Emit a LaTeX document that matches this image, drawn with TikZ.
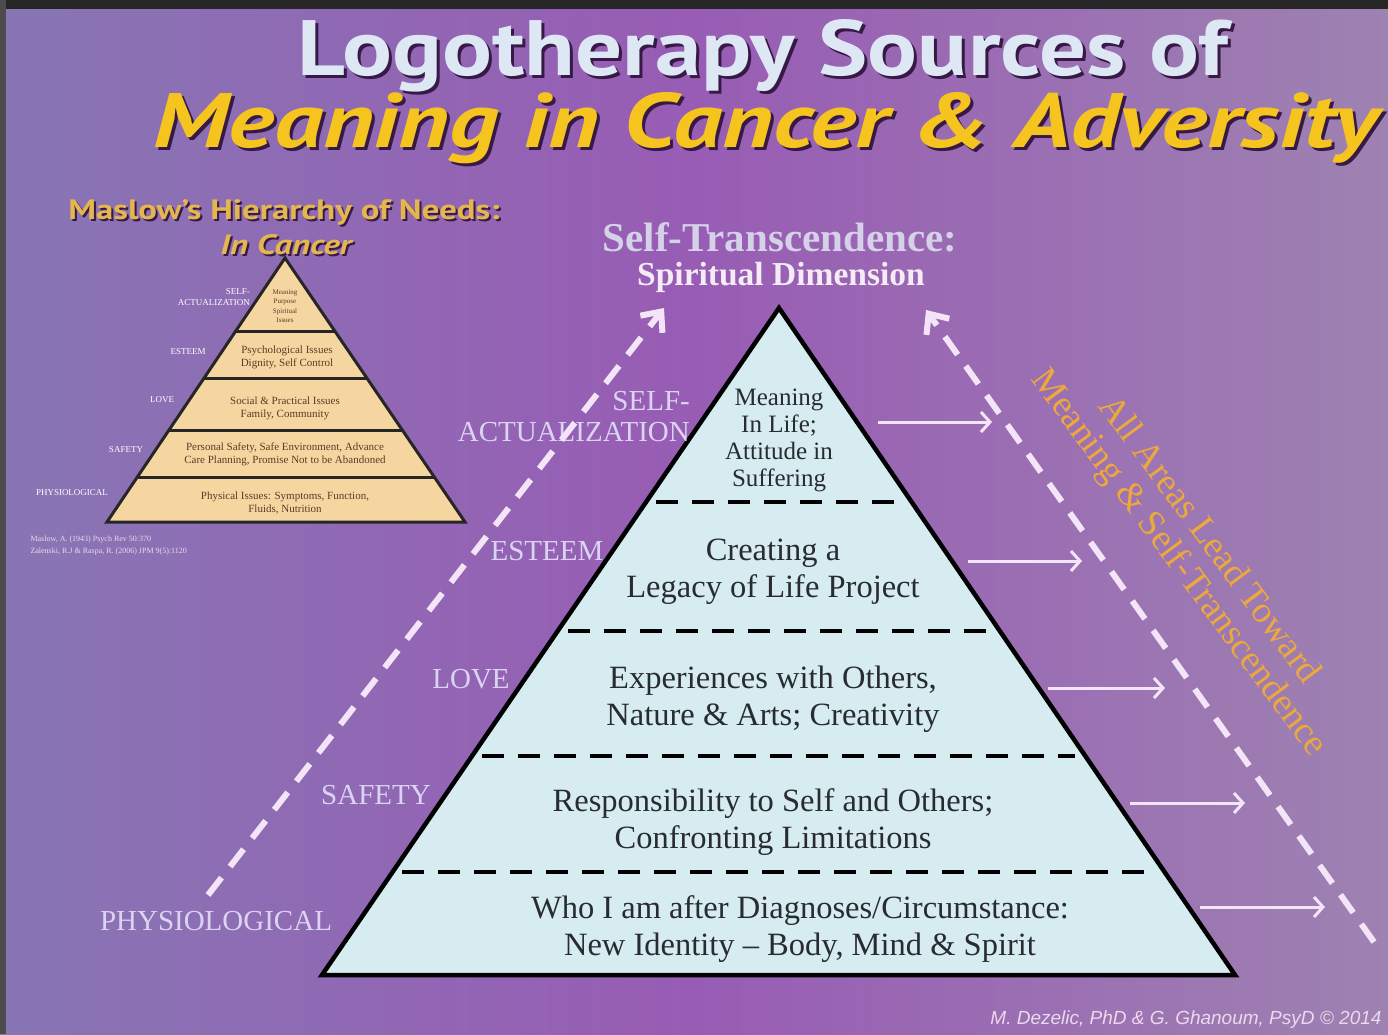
\documentclass[tikz,border=0pt]{standalone}
\usepackage{fontspec}
\usepackage{graphicx}
\setmainfont{Liberation Serif}
\newfontfamily\headfont{PT Sans}
\newfontfamily\notefont{Liberation Sans}
\usetikzlibrary{arrows.meta,calc}

\definecolor{bgleft}{RGB}{136,118,180}
\definecolor{bgmid}{RGB}{152,92,180}
\definecolor{bgright}{RGB}{158,130,178}
\definecolor{titleblue}{RGB}{222,232,244}
\definecolor{titlegold}{RGB}{246,196,30}
\definecolor{shadowcol}{RGB}{55,25,70}
\definecolor{maslowgold}{RGB}{228,182,78}
\definecolor{maslowfill}{RGB}{246,214,160}
\definecolor{maslowtext}{RGB}{85,62,40}
\definecolor{pyrfill}{RGB}{214,236,240}
\definecolor{tiercol}{RGB}{40,44,48}
\definecolor{labelcol}{RGB}{218,212,242}
\definecolor{flowcol}{RGB}{244,228,248}
\definecolor{leadgold}{RGB}{236,168,60}

\begin{document}
\begin{tikzpicture}[x=1pt,y=-1pt,
tiertext/.style={text=tiercol, font=\fontsize{32.5}{37}\selectfont, align=center, inner sep=0pt},
levellabel/.style={text=labelcol, font=\fontsize{29}{31}\selectfont, align=right, inner sep=0pt},
smalltext/.style={text=maslowtext, font=\fontsize{11}{13}\selectfont, align=center, inner sep=0pt},
smalllabel/.style={text=white, font=\fontsize{9}{11}\selectfont, align=right, inner sep=0pt},
maslowhead/.style={font=\headfont\bfseries\fontsize{28}{30}\selectfont, inner sep=0pt},
tierline/.style={black, line width=4pt, dash pattern=on 22pt off 14pt},
flow/.style={flowcol, line width=6pt, dash pattern=on 22pt off 14pt, -{Straight Barb[length=16pt,width=28pt]}},
lead/.style={flowcol, line width=3pt, -{Straight Barb[length=9pt,width=20pt]}}
]
\useasboundingbox (0,0) rectangle (1388,1034);
\shade[left color=bgleft, right color=bgright, middle color=bgmid] (0,0) rectangle (1388,1034);
\fill[black!85] (0,0) rectangle (1388,9);
\fill[black!70] (0,0) rectangle (6,1034);

% title
\node[text=shadowcol, anchor=base, inner sep=0pt] at (766,78) {\resizebox{930pt}{56pt}{\headfont\bfseries Logotherapy Sources of}};
\node[text=titleblue, anchor=base, inner sep=0pt] (title1) at (763,75) {\resizebox{930pt}{56pt}{\headfont\bfseries Logotherapy Sources of}};
\node[text=shadowcol, anchor=base, inner sep=0pt] at (769,150) {\resizebox{1223pt}{55pt}{\headfont\bfseries\itshape Meaning in Cancer \& Adversity}};
\node[text=titlegold, anchor=base, inner sep=0pt] (title2) at (766,147) {\resizebox{1223pt}{55pt}{\headfont\bfseries\itshape Meaning in Cancer \& Adversity}};

% Maslow pyramid
\node[maslowhead, text=shadowcol] at (286,214) {\scalebox{1.24}[1]{Maslow’s Hierarchy of Needs:}};
\node[maslowhead, text=maslowgold] (mtitle) at (284,212) {\scalebox{1.24}[1]{Maslow’s Hierarchy of Needs:}};
\node[maslowhead, text=shadowcol] at (288,247) {\scalebox{1.24}[1]{\itshape In Cancer}};
\node[maslowhead, text=maslowgold] (msub) at (286,245) {\scalebox{1.24}[1]{\itshape In Cancer}};

\coordinate (mapex) at (285,258);
\coordinate (mbl) at (107,522);
\coordinate (mbr) at (465,522);
\filldraw[fill=maslowfill, draw=black!85, line width=3pt] (mapex) -- (mbl) -- (mbr) -- cycle;
\foreach \t in {0.280,0.455,0.652,0.830}
  \draw[black!85, line width=3pt] ($(mapex)!\t!(mbl)$) -- ($(mapex)!\t!(mbr)$);

\node[smalltext, font=\fontsize{7}{9.5}\selectfont] (mt1) at (285,306) {Meaning\\Purpose\\Spiritual\\Issues};
\node[smalltext] (mt2) at (287,357) {Psychological Issues\\Dignity, Self Control};
\node[smalltext] (mt3) at (285,408) {Social \& Practical Issues\\Family, Community};
\node[smalltext] (mt4) at (285,454) {Personal Safety, Safe Environment, Advance\\Care Planning, Promise Not to be Abandoned};
\node[smalltext] (mt5) at (285,503) {Physical Issues: Symptoms, Function,\\Fluids, Nutrition};

\node[smalllabel, anchor=east] (ml1) at (250,297) {SELF-\\ACTUALIZATION};
\node[smalllabel] (ml2) at (188,352) {ESTEEM};
\node[smalllabel] (ml3) at (162,400) {LOVE};
\node[smalllabel] (ml4) at (126,450) {SAFETY};
\node[smalllabel] (ml5) at (72,493) {PHYSIOLOGICAL};

\node[text=white!85!violet, font=\fontsize{8}{12}\selectfont, align=left, anchor=west] (refs) at (27,546) {Maslow, A. (1943) Psych Rev 50:370\\Zalenski, R.J \& Raspa, R. (2006) JPM 9(5):1120};

% main pyramid
\coordinate (apex) at (779,308);
\coordinate (bl) at (322,975);
\coordinate (br) at (1235,975);
\filldraw[fill=pyrfill, draw=black, line width=4.5pt] (apex) -- (bl) -- (br) -- cycle;
\foreach \t in {0.291,0.484,0.672,0.846}
  \draw[tierline] ($(apex)!\t!(bl)+(10,0)$) -- ($(apex)!\t!(br)-(10,0)$);

\node[tiertext, font=\fontsize{25}{27}\selectfont] (tier1) at (779,440) {Meaning\\In Life;\\Attitude in\\Suffering};
\node[tiertext] (tier2) at (773,572) {Creating a\\Legacy of Life Project};
\node[tiertext] (tier3) at (773,699) {Experiences with Others,\\Nature \& Arts; Creativity};
\node[tiertext] (tier4) at (773,822) {Responsibility to Self and Others;\\Confronting Limitations};
\node[tiertext] (tier5) at (800,929) {Who I am after Diagnoses/Circumstance:\\New Identity -- Body, Mind \& Spirit};

\node[levellabel, anchor=east] (lab1) at (690,417) {SELF-\\ACTUALIZATION};
\node[levellabel] (lab2) at (547,551) {ESTEEM};
\node[levellabel] (lab3) at (471,679) {LOVE};
\node[levellabel] (lab4) at (376,795) {SAFETY};
\node[levellabel] (lab5) at (216,921) {PHYSIOLOGICAL};

\node[text=titleblue!90!violet, font=\bfseries\fontsize{41}{43}\selectfont] (st1) at (780,237) {Self-Transcendence:};
\node[text=white!92!violet, font=\bfseries\fontsize{33.5}{36}\selectfont] (st2) at (781,277) {Spiritual Dimension};

% arrows toward self-transcendence
\coordinate (fl0) at (208,895);
\coordinate (fl1) at (664,308);
\coordinate (fr0) at (1374,942);
\coordinate (fr1) at (926,310);
\draw[flow] (fl0) -- (fl1);
\draw[flow] (fr0) -- (fr1);

\foreach \y/\xa/\xb [count=\i] in {422/878/992, 561/968/1082, 688/1048/1165, 803/1130/1245, 907/1200/1325}{
  \coordinate (s\i) at (\xa,\y);
  \coordinate (e\i) at (\xb,\y);
  \draw[lead] (s\i) -- (e\i);
}

\node[text=leadgold, rotate=-53.5, align=center, font=\fontsize{37}{38}\selectfont] (toward) at (1193,552) {All Areas Lead Toward\\Meaning \& Self-Transcendence};

\node[text=white!85!violet, font=\notefont\itshape\fontsize{19}{21}\selectfont, anchor=east] (credit) at (1385,1020) {M. Dezelic, PhD \& G. Ghanoum, PsyD © 2014};
\end{tikzpicture}
\end{document}
